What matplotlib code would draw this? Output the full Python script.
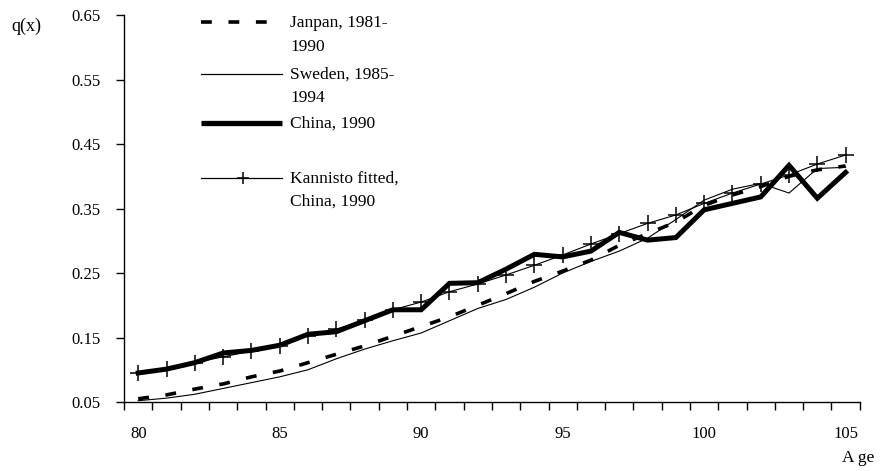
import matplotlib
matplotlib.use("Agg")
import matplotlib.pyplot as plt
from matplotlib.lines import Line2D

# ===============================
# DATA
# ===============================
ages = list(range(80, 106))

japan = [0.055, 0.061, 0.070, 0.078, 0.089, 0.098, 0.111, 0.124, 0.137, 0.152,
         0.167, 0.182, 0.200, 0.218, 0.237, 0.253, 0.270, 0.293, 0.311, 0.329,
         0.355, 0.371, 0.384, 0.400, 0.410, 0.416]
sweden = [0.052, 0.056, 0.062, 0.071, 0.080, 0.089, 0.100, 0.117, 0.132, 0.145,
          0.157, 0.176, 0.195, 0.209, 0.228, 0.250, 0.268, 0.284, 0.304, 0.333,
          0.363, 0.380, 0.389, 0.374, 0.412, 0.414]
china = [0.095, 0.101, 0.111, 0.126, 0.130, 0.138, 0.155, 0.159, 0.176, 0.193,
         0.193, 0.234, 0.235, 0.256, 0.279, 0.275, 0.284, 0.313, 0.301, 0.305,
         0.348, 0.358, 0.368, 0.417, 0.366, 0.406]
kannisto = [0.095, 0.101, 0.111, 0.120, 0.129, 0.137, 0.153, 0.163, 0.177, 0.193,
            0.205, 0.221, 0.233, 0.247, 0.262, 0.278, 0.295, 0.311, 0.327, 0.340,
            0.358, 0.374, 0.388, 0.402, 0.419, 0.433]

x_labels = [80, 85, 90, 95, 100, 105]
y_ticks = [0.05, 0.15, 0.25, 0.35, 0.45, 0.55, 0.65]

labels = ["Janpan, 1981-\n1990", "Sweden, 1985-\n1994", "China, 1990",
          "Kannisto fitted,\nChina, 1990"]

# ===============================
# STYLE
# ===============================
plt.rcParams["font.family"] = ["Liberation Serif", "DejaVu Serif"]
plt.rcParams["font.size"] = 12

fig = plt.figure(figsize=(8.8, 4.71), dpi=100)
ax = fig.add_axes([0.141, 0.1465, 0.836, 0.8215])

styles = [
    dict(color="black", lw=2.6, ls=(0, (3.0, 4.6))),
    dict(color="black", lw=0.8),
    dict(color="black", lw=3.6, solid_joinstyle="miter"),
    dict(color="black", lw=0.8, marker="+", ms=11, mew=1.1),
]

for series, st in zip([japan, sweden, china, kannisto], styles):
    ax.plot(ages, series, **st)

ax.set_xlim(79.5, 105.5)
ax.set_ylim(0.05, 0.65)

ax.set_xticks(x_labels)
ax.set_xticklabels([str(v) for v in x_labels])
ax.set_xticks([a - 0.5 for a in ages] + [105.5], minor=True)
ax.tick_params(axis="x", which="major", length=0, pad=17)
ax.tick_params(axis="x", which="minor", length=6, direction="out", width=1)

ax.set_yticks(y_ticks)
ax.set_yticklabels(["%.2f" % v for v in y_ticks])
ax.tick_params(axis="y", length=6, direction="out", width=1, pad=11)

for side in ["top", "right"]:
    ax.spines[side].set_visible(False)
for side in ["left", "bottom"]:
    ax.spines[side].set_linewidth(1)

fig.text(0.013, 0.945, "q(x)", fontsize=13, va="center", ha="left")
fig.text(0.994, 0.027, "A ge", fontsize=12.5, va="center", ha="right")

# ===============================
# LEGEND (manual, teks sejajar dengan garis)
# ===============================
leg_y = [0.982, 0.848, 0.722, 0.580]
leg_styles = [
    dict(color="black", lw=2.6, ls=(0, (3.0, 4.6))),
    dict(color="black", lw=0.9),
    dict(color="black", lw=3.8, solid_capstyle="butt"),
    dict(color="black", lw=0.9),
]
for st, lab, yy in zip(leg_styles, labels, leg_y):
    ax.add_line(Line2D([0.104, 0.215], [yy, yy], transform=ax.transAxes, **st))
    ax.text(0.226, yy + 0.018, lab, transform=ax.transAxes, va="top",
            ha="left", fontsize=12.5, linespacing=1.62)

ax.plot([0.162], [leg_y[3]], transform=ax.transAxes, color="black",
        marker="+", ms=9, mew=1.1, ls="none")

fig.savefig("out.png", dpi=100)
